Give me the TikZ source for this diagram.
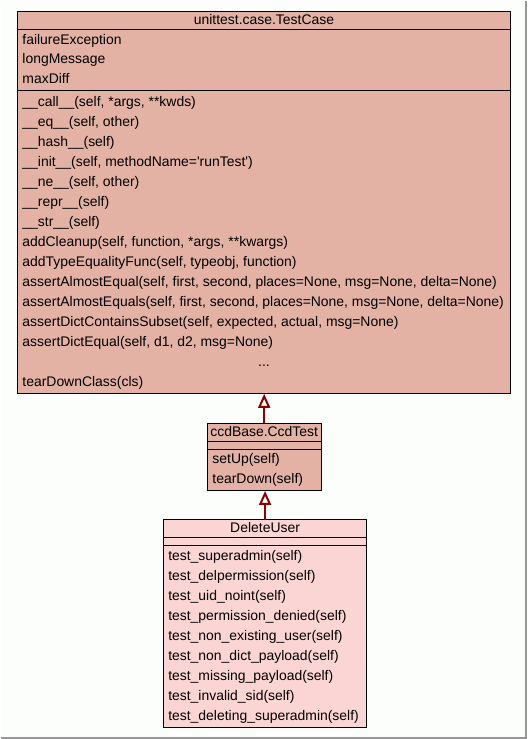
\documentclass[tikz,border=0pt]{standalone}
\usepackage{fontspec}
\setmainfont{Liberation Sans}
\usetikzlibrary{positioning,arrows.meta}
\definecolor{parentfill}{RGB}{227,178,165}
\definecolor{childfill}{RGB}{251,212,212}
\definecolor{inheritred}{RGB}{139,0,0}
\definecolor{pagebg}{RGB}{252,254,252}
\definecolor{framegray}{RGB}{150,150,150}
\newcommand{\umlfont}{\fontsize{13.95pt}{20pt}\selectfont}

\begin{document}
\begin{tikzpicture}[x=1pt, y=-1pt,
    umlpart/.style={draw=black, line width=1pt, inner sep=0pt, outer sep=0pt},
    umlhead/.style={umlpart, anchor=north, minimum height=18pt, text height=10pt, text depth=2pt, font=\umlfont},
    umlline/.style={anchor=base west, inner sep=0pt, font=\umlfont},
    inherits/.style={draw=inheritred, line width=2pt, -{Triangle[open, length=14pt, width=12pt]}}]
      \fill[pagebg] (0, 0) rectangle (527, 739);
      \draw[line width=1.5pt, framegray] (0, 737.8) -- (525.8, 737.8) -- (525.8, 0);
      \node[umlhead, fill=parentfill, minimum width=494pt] (tch) at (263.5, 10.5) {unittest.case.TestCase};
      \node[umlpart, fill=parentfill, minimum width=494pt, minimum height=61.5pt, below=0pt of tch] (tca) {};
      \node[umlpart, fill=parentfill, minimum width=494pt, minimum height=303.5pt, below=0pt of tca] (tcm) {};
      \foreach \txt [count=\i] in {failureException, longMessage, maxDiff}
        \node[umlline] (tca\i) at (21.5, {23.3+20*\i}) {\txt};
      \foreach \txt [count=\i] in {{\_\_call\_\_(self, *args, **kwds)}, {\_\_eq\_\_(self, other)},
          {\_\_hash\_\_(self)}, {\_\_init\_\_(self, methodName=\textquotesingle runTest\textquotesingle)},
          {\_\_ne\_\_(self, other)}, {\_\_repr\_\_(self)}, {\_\_str\_\_(self)},
          {addCleanup(self, function, *args, **kwargs)}, {addTypeEqualityFunc(self, typeobj, function)},
          {assertAlmostEqual(self, first, second, places=None, msg=None, delta=None)},
          {assertAlmostEquals(self, first, second, places=None, msg=None, delta=None)},
          {assertDictContainsSubset(self, expected, actual, msg=None)},
          {assertDictEqual(self, d1, d2, msg=None)}}
        \node[umlline] (tcm\i) at (21.5, {86+20*\i}) {\txt};
      \node[umlline, anchor=base] (tcdots) at (263.5, 366) {...};
      \node[umlline] (tcm15) at (21.5, 386) {tearDownClass(cls)};
      \node[umlhead, fill=parentfill, minimum width=114pt] (cch) at (263.7, 422.7) {ccdBase.CcdTest};
      \node[umlpart, fill=parentfill, minimum width=114pt, minimum height=8pt, below=0pt of cch] (cca) {};
      \node[umlpart, fill=parentfill, minimum width=114pt, minimum height=42pt, below=0pt of cca] (ccm) {};
      \node[umlline] (ccm1) at (211.7, 463.3) {setUp(self)};
      \node[umlline] (ccm2) at (211.7, 483.3) {tearDown(self)};
      \node[umlhead, fill=childfill, minimum width=202.7pt] (duh) at (264.6, 519.3) {DeleteUser};
      \node[umlpart, fill=childfill, minimum width=202.7pt, minimum height=8pt, below=0pt of duh] (dua) {};
      \node[umlpart, fill=childfill, minimum width=202.7pt, minimum height=182.5pt, below=0pt of dua] (dum) {};
      \foreach \txt [count=\i] in {test\_superadmin(self), test\_delpermission(self), test\_uid\_noint(self),
          test\_permission\_denied(self), test\_non\_existing\_user(self), test\_non\_dict\_payload(self),
          test\_missing\_payload(self), test\_invalid\_sid(self), test\_deleting\_superadmin(self)}
        \node[umlline] (dum\i) at (167.5, {540.7+20*\i}) {\txt};
      \draw[inherits] (cch.north) -- (cch.north |- tcm.south);
      \draw[inherits] (duh.north) -- (duh.north |- ccm.south);
    \end{tikzpicture}
\end{document}
